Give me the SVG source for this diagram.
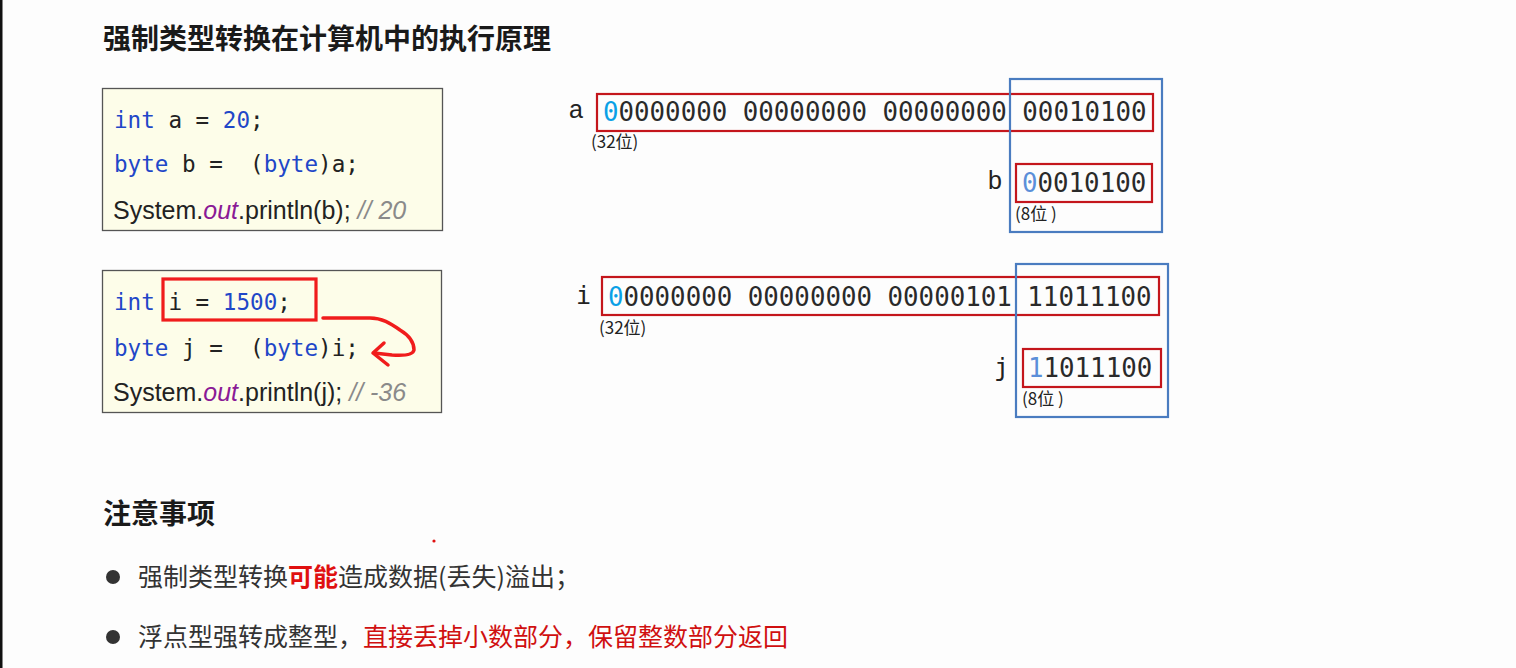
<svg xmlns="http://www.w3.org/2000/svg" width="1516" height="668" viewBox="0 0 1516 668">
<style>
.bg{fill:#fdfdfd}
.h{font-family:"Noto Sans CJK SC","Noto Sans",sans-serif;font-weight:bold;font-size:28px;fill:#1a1a1a}
.code{fill:#fdfde9;stroke:#555;stroke-width:1.3}
.mono{font-family:"DejaVu Sans Mono","Liberation Mono",monospace;font-size:22.6px;fill:#222;white-space:pre}
.sans{font-family:"Liberation Sans",Arial,sans-serif;font-size:25px;fill:#222}
.kw{fill:#1f47c8}
.out{fill:#8a1a96;font-style:italic}
.cm{fill:#8a8a8a;font-style:italic}
.bin{font-family:"DejaVu Sans Mono","Liberation Mono",monospace;font-size:25.8px;fill:#2a2a2a;white-space:pre}
.var{font-family:"Liberation Sans","Noto Sans",sans-serif;font-size:25px;fill:#222}
.vm{font-family:"DejaVu Sans Mono",monospace;font-size:25px;fill:#222}
.small{font-family:"Noto Sans CJK SC","Noto Sans",sans-serif;font-size:17px;fill:#222;white-space:pre}
.rbox{fill:none;stroke:#c4161c;stroke-width:2.2}
.bbox{fill:none;stroke:#4a7cc0;stroke-width:2.2}
.c1{fill:#0aa0e6}
.c2{fill:#5b8fd9}
.li{font-family:"Noto Sans CJK SC","Noto Sans",sans-serif;font-size:25px;fill:#333}
.red{fill:#d01010}
.redb{fill:#e01010;font-weight:bold}
</style>
<rect class="bg" x="0" y="0" width="1516" height="668"/>
<rect x="0" y="0" width="2.5" height="668" fill="#111"/>

<g id="title"><text class="h" x="103" y="49">强制类型转换在计算机中的执行原理</text></g>

<g id="code1">
<rect class="code" x="102.5" y="88.5" width="340" height="142"/>
<text class="mono" x="114" y="128"><tspan class="kw">int</tspan> a = <tspan class="kw">20</tspan>;</text>
<text class="mono" x="114" y="172"><tspan class="kw">byte</tspan> b =  (<tspan class="kw">byte</tspan>)a;</text>
<text class="sans" x="113" y="219">System.<tspan class="out">out</tspan>.println(b); <tspan class="cm">// 20</tspan></text>
</g>

<g id="code2">
<rect class="code" x="102.5" y="270.5" width="339" height="142"/>
<text class="mono" x="114" y="310"><tspan class="kw">int</tspan> i = <tspan class="kw">1500</tspan>;</text>
<text class="mono" x="114" y="356"><tspan class="kw">byte</tspan> j =  (<tspan class="kw">byte</tspan>)i;</text>
<text class="sans" x="113" y="401">System.<tspan class="out">out</tspan>.println(j); <tspan class="cm">// -36</tspan></text>
<rect x="163" y="279" width="153" height="41" fill="none" stroke="#f01c1c" stroke-width="3.2"/>
</g>

<g id="connectors">
<path d="M323 318 L370 318 C382 318 390 323 400 330 C410 336 414 342 414 350 C413 355 405 356 392 355 L374 353" fill="none" stroke="#f01c1c" stroke-width="3.5" stroke-linecap="round" stroke-linejoin="round"/>
<path d="M384 343 L373 353 L388 365" fill="none" stroke="#f01c1c" stroke-width="3.5" stroke-linecap="round" stroke-linejoin="round"/>
</g>

<g id="varA">
<text class="var" x="569" y="118">a</text>
<rect class="rbox" x="597" y="94" width="556" height="37"/>
<text class="bin" x="603" y="121"><tspan class="c1">0</tspan>0000000 00000000 00000000 00010100</text>
<text class="small" x="591" y="148">(32位)</text>
</g>
<g id="varB">
<rect class="bbox" x="1010" y="79" width="152" height="153"/>
<text class="var" x="988" y="189">b</text>
<rect class="rbox" x="1016" y="164" width="136" height="38"/>
<text class="bin" x="1022" y="192"><tspan class="c2">0</tspan>0010100</text>
<text class="small" x="1015" y="220">(8位 )</text>
</g>

<g id="varI">
<text class="vm" x="576" y="304">i</text>
<rect class="rbox" x="602" y="277" width="557" height="38"/>
<text class="bin" x="608" y="306"><tspan class="c1">0</tspan>0000000 00000000 00000101 11011100</text>
<text class="small" x="599" y="334">(32位)</text>
</g>
<g id="varJ">
<rect class="bbox" x="1016" y="264" width="152" height="153"/>
<text class="vm" x="994" y="376">j</text>
<rect class="rbox" x="1023" y="349" width="138" height="38"/>
<text class="bin" x="1028" y="377"><tspan class="c2">1</tspan>1011100</text>
<text class="small" x="1022" y="405">(8位 )</text>
</g>

<g id="notes">
<text class="h" x="103" y="524">注意事项</text>
<circle cx="434" cy="541" r="1.6" fill="#e01010"/>
<circle cx="113" cy="577" r="7" fill="#333"/>
<text class="li" x="138" y="586">强制类型转换<tspan class="redb">可能</tspan>造成数据(丢失)溢出；</text>
<circle cx="113" cy="637" r="7" fill="#333"/>
<text class="li" x="138" y="646">浮点型强转成整型，<tspan class="red">直接丢掉小数部分，保留整数部分返回</tspan></text>
</g>
</svg>
